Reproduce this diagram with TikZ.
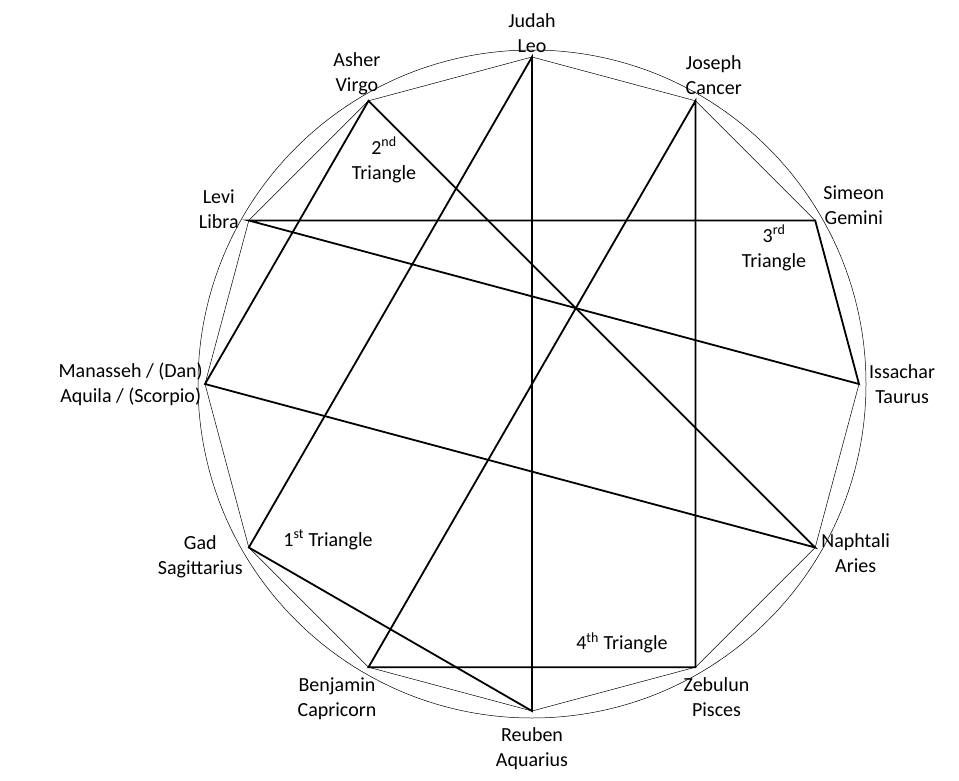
\documentclass[tikz,border=0pt]{standalone}
\usepackage{fontspec}
\setmainfont{Carlito}
\usetikzlibrary{calc,positioning}
\tikzset{%
    thn/.style={line width = 0.5pt},
    thk/.style={line width = 1.8pt},
    lab/.style={align=center, inner sep=0pt, font=\fontsize{20}{25}\selectfont}
}
\begin{document}
\begin{tikzpicture}[x=1pt,y=-1pt]
    \useasboundingbox (0,0) rectangle (959,781);
    \coordinate (O) at (532,384);
    \draw [thn] (O) circle (334);
    % the twelve tribes
    \foreach \n/\a in {jud/90,jos/60,sim/30,iss/0,nap/-30,zeb/-60,reu/-90,ben/-120,gad/-150,man/180,lev/150,ash/120}
        \coordinate (\n) at ($(O)+(\a:327 and -327)$);
    \draw [thn] (jud)--(jos)--(sim)--(iss)--(nap)--(zeb)--(reu)--(ben)--(gad)--(man)--(lev)--(ash)--cycle;
    \draw [thk] (gad)--(jud)--(reu)--cycle;
    \draw [thk] (man)--(ash)--(nap)--cycle;
    \draw [thk] (lev)--(sim)--(iss)--cycle;
    \draw [thk] (jos)--(zeb)--(ben)--cycle;
    \node (ljud) [lab, above=4pt] at (jud) {Judah\\Leo};
    \node (ljos) [lab, above right=6pt and -10pt] at (jos) {Joseph\\Cancer};
    \node (lsim) [lab, above right=-4pt and 8pt] at (sim) {Simeon\\Gemini};
    \node (liss) [lab, right=10pt] at (iss) {Issachar\\Taurus};
    \node (lnap) [lab, below right=-14pt and 6pt] at (nap) {Naphtali\\Aries};
    \node (lzeb) [lab, below right=10pt and -12pt] at (zeb) {Zebulun\\Pisces};
    \node (lreu) [lab, below=16pt] at (reu) {Reuben\\Aquarius};
    \node (lben) [lab, below left=10pt and -8pt] at (ben) {Benjamin\\Capricorn};
    \node (lgad) [lab, below left=-12pt and 6pt] at (gad) {Gad\\Sagittarius};
    \node (lman) [lab, left=2pt] at (man) {Manasseh / (Dan)\\Aquila / (Scorpio)};
    \node (llev) [lab, above left=-8pt and 10pt] at (lev) {Levi\\Libra};
    \node (lash) [lab, above left=6pt and -12pt] at (ash) {Asher\\Virgo};
    \node (t1) [lab] at (328,540) {1\textsuperscript{st} Triangle};
    \node (t2) [lab] at (384,160) {2\textsuperscript{nd}\\Triangle};
    \node (t3) [lab] at (774,248) {3\textsuperscript{rd}\\Triangle};
    \node (t4) [lab] at (622,643) {4\textsuperscript{th} Triangle};
\end{tikzpicture}
\end{document}
